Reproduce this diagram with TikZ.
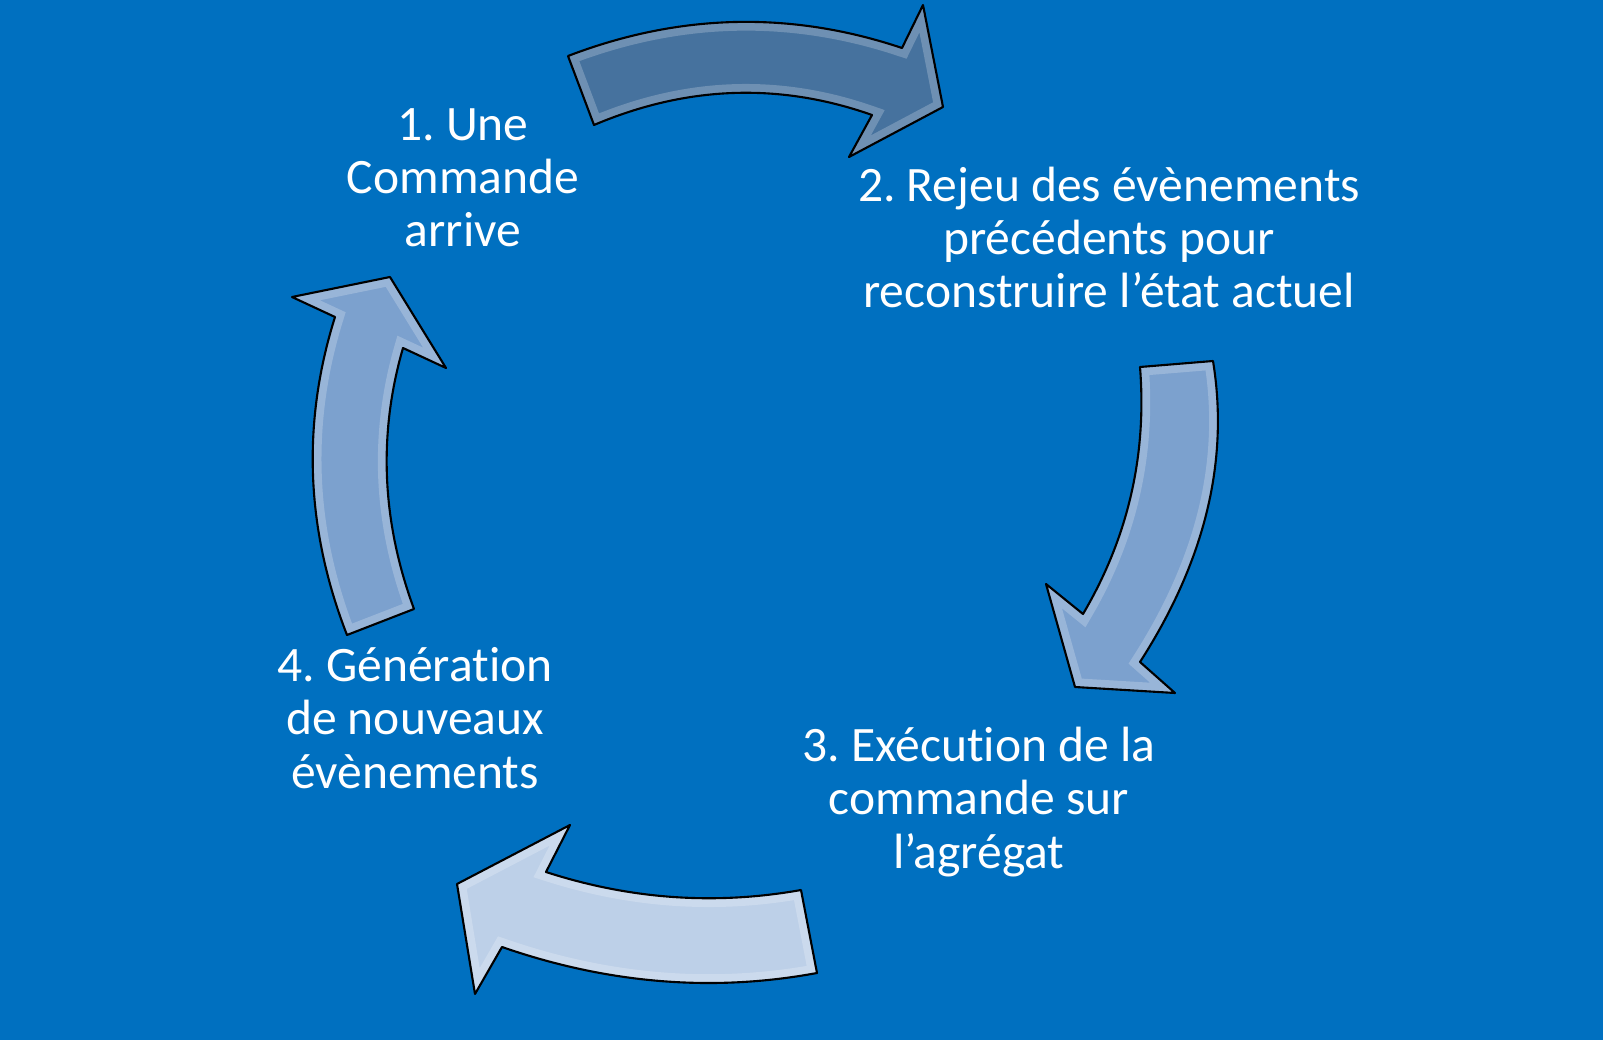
\documentclass[tikz,border=0pt]{standalone}
\usepackage{fontspec}
\setmainfont{Carlito}[Ligatures=NoCommon]
\usepackage{xcolor}
\usepackage{tikz}
\frenchspacing

\definecolor{slideblue}{RGB}{0,112,192}
\definecolor{arrowdark}{RGB}{70,114,158}
\definecolor{arrowmid}{RGB}{124,161,206}
\definecolor{arrowlight}{RGB}{189,208,232}

\tikzset{
  steplabel/.style={text=white, align=center, inner sep=0pt, anchor=base,
    font={\fontsize{28.2pt}{30.2pt}\selectfont}},
  arrowrim/.style={white, opacity=0.22, line width=10},
  arrowshine/.style={white, opacity=0.5, line width=1.5},
  arrowedge/.style={black, line width=1.2, line join=round}
}

\begin{document}
\begin{tikzpicture}[x=0.02cm, y=-0.02cm]
\fill[slideblue] (0,0) rectangle (1603,1040);
\useasboundingbox (0,0) rectangle (1603,1040);

% top arrow
\def\toppath{(568,56) .. controls (679.3,13.3) and (790.7,10.7) .. (902,48)
  -- (923,5) -- (943,107) -- (849,157) -- (872,115)
  .. controls (779.3,82.3) and (686.7,85.7) .. (594,125) -- cycle}
% right arrow
\def\rightpath{(1140,367) -- (1213,361)
  .. controls (1229.3,460.7) and (1205,561) .. (1140,662)
  -- (1175,693) -- (1075,687) -- (1046,584) -- (1083,614)
  .. controls (1128,537.7) and (1147,455.3) .. (1140,367) -- cycle}
% bottom arrow
\def\bottompath{(801,890) -- (817,973)
  .. controls (712.7,992.3) and (607.7,983.7) .. (502,947)
  -- (475,994) -- (457,884) -- (570,825) -- (546,872)
  .. controls (630.3,899.3) and (715.3,905.3) .. (801,890) -- cycle}
% left arrow
\def\leftpath{(347,635) -- (414,609)
  .. controls (381.7,521.3) and (378,434.3) .. (403,348)
  -- (446,368) -- (390,277) -- (292,297) -- (335,317)
  .. controls (301.7,423) and (305.7,529) .. (347,635) -- cycle}

\foreach \shape/\col in {\toppath/arrowdark, \rightpath/arrowmid,
    \bottompath/arrowlight, \leftpath/arrowmid} {
  \fill[\col] \shape;
  \begin{scope}
    \clip \shape;
    \draw[arrowrim] \shape;
  \end{scope}
  \draw[arrowedge] \shape;
}

\node[steplabel] (step1) at (463,247) {1. Une\\Commande\\arrive};
\node[steplabel] (step2) at (1109,308) {2. Rejeu des évènements\\précédents pour\\reconstruire l’état actuel};
\node[steplabel] (step3) at (979,868) {3. Exécution de la\\commande sur\\l’agrégat};
\node[steplabel] (step4) at (415,788) {4. Génération\\de nouveaux\\évènements};

\end{tikzpicture}
\end{document}
